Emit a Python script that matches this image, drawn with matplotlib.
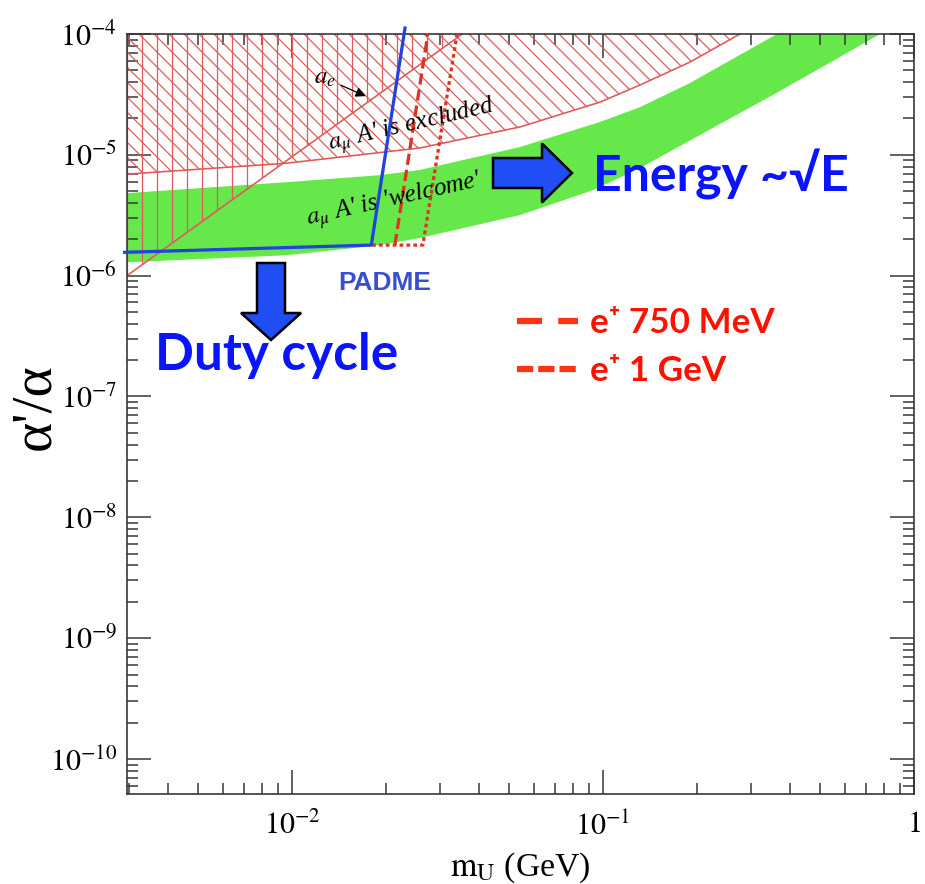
import matplotlib
matplotlib.use("Agg")
import matplotlib.pyplot as plt
from matplotlib.lines import Line2D
from matplotlib.patches import FancyArrow
from matplotlib.transforms import IdentityTransform

plt.rcParams["mathtext.fontset"] = "stix"
plt.rcParams["font.family"] = ["Liberation Serif", "DejaVu Serif"]
plt.rcParams["hatch.linewidth"] = 1.0
plt.rcParams["lines.scale_dashes"] = False

# --- data ---
# a_mu "welcome" band (green)
band_up_x = [0.00295, 0.00964, 0.0192, 0.0258, 0.0541, 0.0978, 0.1315, 0.1905, 0.3626]
band_up_y = [4.82e-6, 5.94e-6, 6.79e-6, 7.5e-6, 1.16e-5, 1.87e-5, 2.48e-5, 3.93e-5, 1.0e-4]
band_lo_x = [0.00295, 0.00964, 0.0192, 0.0258, 0.0541, 0.0929, 0.1315, 0.216, 0.352, 0.578, 0.778]
band_lo_y = [1.29e-6, 1.476e-6, 1.79e-6, 2.05e-6, 3.17e-6, 5.1e-6, 7.76e-6, 1.57e-5, 3.13e-5, 6.45e-5, 1.0e-4]

# a_mu excluded (lower edge of hatched region)
amu_x = [0.00295, 0.00964, 0.0258, 0.0541, 0.0978, 0.1315, 0.1905, 0.2757]
amu_y = [6.92e-6, 8.53e-6, 1.14e-5, 1.70e-5, 2.73e-5, 3.78e-5, 5.86e-5, 1.0e-4]

# a_e excluded (lower edge)
ae_x = [0.00295, 0.0353]
ae_y = [1.0e-6, 1.0e-4]

# PADME reach
padme_x = [0.0029, 0.0180, 0.0231]
padme_y = [1.56e-6, 1.79e-6, 1.12e-4]

# e+ 750 MeV and 1 GeV projections
e750_x = [0.02143, 0.02736]
e750_y = [1.79e-6, 1.0e-4]
e1g_x = [0.0181, 0.02636, 0.03396]
e1g_y = [1.79e-6, 1.79e-6, 1.0e-4]

x_ticks = [1e-2, 1e-1, 1]
x_ticklabels = [r"$10^{-2}$", r"$10^{-1}$", r"$1$"]
y_ticks = [1e-10, 1e-9, 1e-8, 1e-7, 1e-6, 1e-5, 1e-4]
y_ticklabels = [r"$10^{-10}$", r"$10^{-9}$", r"$10^{-8}$", r"$10^{-7}$",
                r"$10^{-6}$", r"$10^{-5}$", r"$10^{-4}$"]

W, H = 925, 884
DPI = 90
fig = plt.figure(figsize=(W / DPI, H / DPI), dpi=DPI)
ax = fig.add_axes([127 / W, (H - 794) / H, (914 - 127) / W, (794 - 34) / H])
ax.set_xscale("log")
ax.set_yscale("log")
ax.set_xlim(0.00295, 1)
ax.set_ylim(5.13e-11, 1e-4)

hatch_red = "#e05a5a"

# green band
ax.fill(band_up_x + band_lo_x[::-1], band_up_y + band_lo_y[::-1],
        color="#66e84a", lw=0, zorder=1)

# a_mu excluded: diagonal hatch
ax.fill_between(amu_x, amu_y, 1e-4, facecolor="none", edgecolor=hatch_red,
                hatch="\\\\", lw=0, zorder=2)
ax.plot(amu_x, amu_y, color=hatch_red, lw=1.3, zorder=2)

# a_e excluded: vertical hatch
ax.fill_between(ae_x, ae_y, 1e-4, facecolor="none", edgecolor=hatch_red,
                hatch="|", lw=0, zorder=2)
ax.plot(ae_x, ae_y, color=hatch_red, lw=1.3, zorder=2)

# PADME
ax.plot(padme_x, padme_y, color="#2244dd", lw=2.6, zorder=4, clip_on=False)
ax.plot(e750_x, e750_y, color="#dd3322", lw=2.6, dashes=(9, 4), zorder=3)
ax.plot(e1g_x, e1g_y, color="#dd3322", lw=2.6, dashes=(3, 2.5), zorder=3)

# in-plot labels
ax.annotate(r"$a_e$", xy=(0.01755, 3.0e-5), xytext=(0.0128, 4.3e-5),
            fontsize=20, ha="center", va="center",
            arrowprops=dict(arrowstyle="-|>", color="black", lw=1, mutation_scale=16,
                            shrinkA=2))
ax.text(0.0243, 1.74e-5, r"$a_\mu$ A' is excluded", fontsize=20,
        rotation=13, ha="center", va="center", style="italic")
ax.text(0.0214, 4.2e-6, r"$a_\mu$ A' is 'welcome'", fontsize=20,
        rotation=12.5, ha="center", va="center", style="italic")

# axes styling
ax.set_xticks(x_ticks)
ax.set_xticklabels(x_ticklabels)
ax.set_yticks(y_ticks)
ax.set_yticklabels(y_ticklabels)
ax.tick_params(which="both", direction="in", top=True, right=True, width=1.2,
               color="#333333")
ax.tick_params(which="major", length=19, labelsize=24)
ax.tick_params(which="minor", length=9)
ax.tick_params(axis="x", which="major", pad=14)
ax.tick_params(axis="y", which="major", pad=8)
for s in ax.spines.values():
    s.set_linewidth(1.3)
    s.set_color("#333333")

ax.set_xlabel(r"$\mathrm{m_U}$ (GeV)", fontsize=27)
ax.xaxis.set_label_coords(0.50, -0.074)
ax.set_ylabel("α'/α", fontsize=46)
ax.yaxis.set_label_coords(-0.083, 0.51)

# legend for beam energies
handles = [Line2D([], [], color="#ff3311", lw=5, dashes=(20, 13)),
           Line2D([], [], color="#ff3311", lw=5, dashes=(13, 4))]
labels = ["e⁺ 750 MeV", "e⁺ 1 GeV"]
ax.legend(handles, labels, loc="upper left",
          bbox_to_anchor=(517 / W, 1 - 307 / H), bbox_transform=fig.transFigure,
          frameon=False, borderpad=0, borderaxespad=0, handlelength=1.75,
          handletextpad=0.35, labelspacing=0.45,
          prop={"family": ["Lato", "DejaVu Sans"], "weight": "bold", "size": 28},
          labelcolor="#ff1100")

# big annotations
sans = ["Lato", "DejaVu Sans"]
fig.text(593 / W, 1 - 192 / H, "Energy ~√E", color="#0a14ff", fontsize=40,
         fontweight="bold", family=sans, ha="left", va="baseline")
fig.text(155 / W, 1 - 370 / H, "Duty cycle", color="#0a14ff", fontsize=41,
         fontweight="bold", family=sans, ha="left", va="baseline")
fig.text(338 / W, 1 - 290 / H, "PADME", color="#3a4fd0", fontsize=21,
         fontweight="bold", family=["Liberation Sans", "DejaVu Sans"],
         ha="left", va="baseline")

ident = IdentityTransform()
fig.add_artist(FancyArrow(493, H - 173, 79, 0, width=30, head_width=59,
                          head_length=30, length_includes_head=True,
                          fc="#1f4ef5", ec="black", lw=2, transform=ident))
fig.add_artist(FancyArrow(271, H - 263, 0, -77, width=28, head_width=60,
                          head_length=27, length_includes_head=True,
                          fc="#1f4ef5", ec="black", lw=2, transform=ident))

fig.savefig("out.png", dpi=DPI)
